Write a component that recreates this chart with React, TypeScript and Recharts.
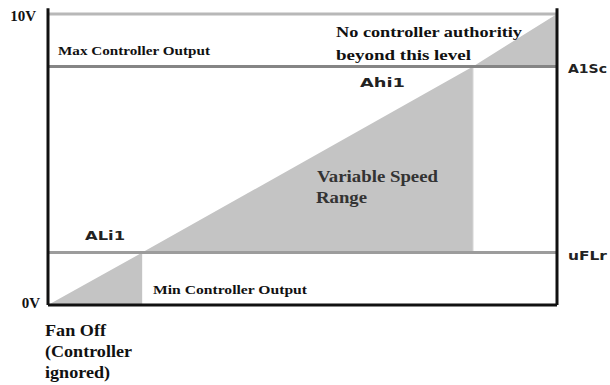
import React from "react";
import {
  ComposedChart,
  Area,
  XAxis,
  YAxis,
  ReferenceLine,
} from "recharts";

// controller input (% of span) at each corner of the shaded band
const inputLevel = [0, 18.5, 18.5, 83.5, 83.5, 100];
// bottom edge of the grey band (V)
const bandFloor = [0, 0, 1.8, 1.8, 8.2, 8.2];
// top edge of the grey band = controller ramp (V)
const rampVolts = [0, 1.8, 1.8, 8.2, 8.2, 10];

const minOutput = 1.8;
const maxOutput = 8.2;
const fullScale = 10;
const voltTicks = [0, 10];

const data = inputLevel.map((x, i) => ({
  x,
  band: [bandFloor[i], rampVolts[i]],
}));

const serif = "'Liberation Serif', 'Times New Roman', serif";
const led = "'DejaVu Sans', sans-serif";

const VoltTick = (props: any) => {
  const { x, y, payload } = props;
  return (
    <text
      x={payload.value === 0 ? x : x - 4}
      y={y}
      dy={payload.value === 0 ? 3 : 7}
      textAnchor="end"
      fontFamily={serif}
      fontWeight="bold"
      fontSize={15}
      fill="#111"
    >
      {`${payload.value}V`}
    </text>
  );
};

export default function App() {
  return (
    <div style={{ position: "absolute", left: 0, top: 0, width: 610, height: 385, background: "#fff" }}>
      <ComposedChart
        width={610}
        height={385}
        data={data}
        margin={{ top: 14, right: 53, bottom: 80, left: 0 }}
      >
        <XAxis dataKey="x" type="number" domain={[0, 100]} hide />
        <YAxis
          type="number"
          domain={[0, fullScale]}
          ticks={voltTicks}
          width={48}
          axisLine={false}
          tickLine={false}
          tick={<VoltTick />}
          allowDataOverflow
        />
        <Area
          dataKey="band"
          type="linear"
          fill="#c4c4c4"
          fillOpacity={1}
          stroke="none"
          isAnimationActive={false}
        />
        <ReferenceLine
          segment={[{ x: 83.5, y: minOutput }, { x: 83.5, y: maxOutput }]}
          stroke="#d6d6d6"
          strokeWidth={1}
        />
        <ReferenceLine y={fullScale} stroke="#b8b8b8" strokeWidth={3} />
        <ReferenceLine y={maxOutput} stroke="#858585" strokeWidth={3} />
        <ReferenceLine y={minOutput} stroke="#9c9c9c" strokeWidth={3} />
        <ReferenceLine y={0} stroke="#111" strokeWidth={3} />
        <ReferenceLine
          segment={[{ x: 0, y: 0 }, { x: 0, y: 10.2 }]}
          stroke="#111"
          strokeWidth={3}
          ifOverflow="visible"
        />
        <ReferenceLine
          segment={[{ x: 100, y: 0 }, { x: 100, y: 10.2 }]}
          stroke="#111"
          strokeWidth={3}
          ifOverflow="visible"
        />
      </ComposedChart>
      <svg
        width={610}
        height={385}
        style={{ position: "absolute", left: 0, top: 0, pointerEvents: "none" }}
      >
        <g fontFamily={serif} fontWeight="bold" fill="#111">
          <text x={58} y={55} fontSize={13} textLength={152} lengthAdjust="spacingAndGlyphs">
            Max Controller Output
          </text>
          <text x={336} y={37} fontSize={15} textLength={186} lengthAdjust="spacingAndGlyphs">
            No controller authoritiy
          </text>
          <text x={336} y={60} fontSize={15} textLength={135} lengthAdjust="spacingAndGlyphs">
            beyond this level
          </text>
          <text x={153} y={294} fontSize={13} textLength={154} lengthAdjust="spacingAndGlyphs">
            Min Controller Output
          </text>
          <text x={45} y={336} fontSize={17} textLength={61} lengthAdjust="spacingAndGlyphs">
            Fan Off
          </text>
          <text x={45} y={357} fontSize={17} textLength={87} lengthAdjust="spacingAndGlyphs">
            (Controller
          </text>
          <text x={45} y={378} fontSize={17} textLength={65} lengthAdjust="spacingAndGlyphs">
            ignored)
          </text>
        </g>
        <g fontFamily={serif} fontWeight="bold" fill="#333">
          <text x={317} y={182} fontSize={17} textLength={121} lengthAdjust="spacingAndGlyphs">
            Variable Speed
          </text>
          <text x={316} y={203} fontSize={17} textLength={51} lengthAdjust="spacingAndGlyphs">
            Range
          </text>
        </g>
        <g fontFamily={led} fontWeight="bold" fill="#222" fontSize={13}>
          <text x={360} y={87} textLength={45} lengthAdjust="spacingAndGlyphs">Ahi1</text>
          <text x={85} y={240} textLength={40} lengthAdjust="spacingAndGlyphs">ALi1</text>
          <text x={568} y={73} textLength={39} lengthAdjust="spacingAndGlyphs">A1Sc</text>
          <text x={568} y={260} textLength={39} lengthAdjust="spacingAndGlyphs">uFLr</text>
        </g>
      </svg>
    </div>
  );
}
